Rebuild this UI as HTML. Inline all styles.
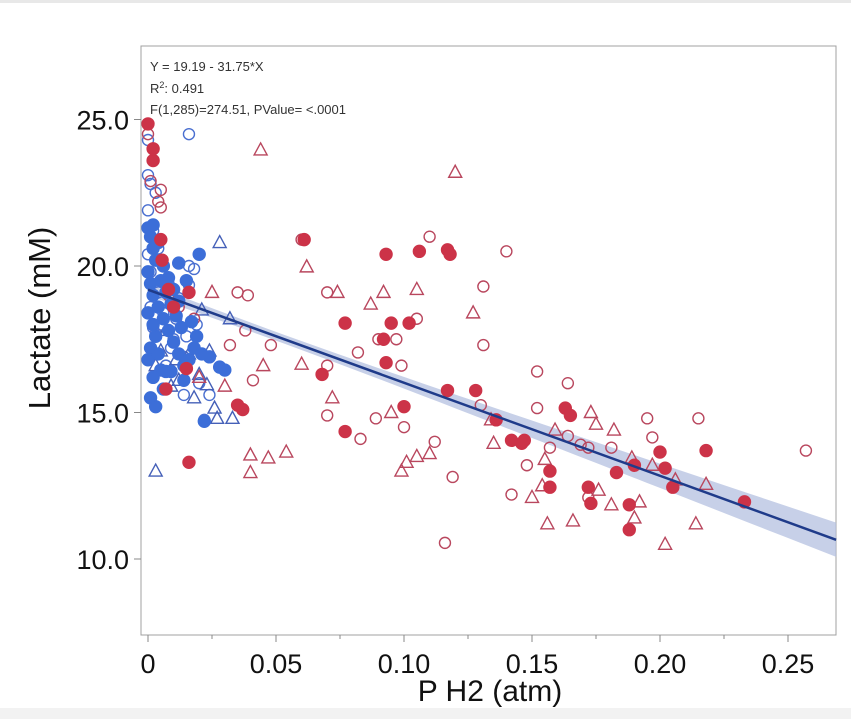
<!DOCTYPE html>
<html><head><meta charset="utf-8"><style>
html,body{margin:0;padding:0;background:#fff}
svg{display:block;font-family:"Liberation Sans",sans-serif}
</style></head><body>
<svg id="chart" width="851" height="719" xmlns="http://www.w3.org/2000/svg">
<rect x="0" y="0" width="851" height="719" fill="#fff"/>
<rect x="0" y="0" width="851" height="3" fill="#e8e8e8"/>
<rect x="0" y="708" width="851" height="11" fill="#f2f2f2"/>
<rect x="141" y="46" width="695" height="589" fill="#fff" stroke="#a0a0a0" stroke-width="1"/>
<g id="band"></g><g id="pts"></g><g id="axes"></g>
<text x="150" y="71" font-size="13" fill="#333">Y = 19.19 - 31.75*X</text>
<text x="150" y="93" font-size="13" fill="#333">R<tspan font-size="9" dy="-5">2</tspan><tspan dy="5">: 0.491</tspan></text>
<text x="150" y="114" font-size="13" fill="#333">F(1,285)=274.51, PValue= &lt;.0001</text>
<text transform="translate(50,318) rotate(-90)" text-anchor="middle" font-size="31" fill="#111">Lactate (mM)</text>
<text x="490" y="701" text-anchor="middle" font-size="30" fill="#111">P H2 (atm)</text>
</svg>
<script>
const xTicks=[0,0.05,0.10,0.15,0.20,0.25];
const xTickLabels=["0","0.05","0.10","0.15","0.20","0.25"];
const yTicks=[10,15,20,25];
const yTickLabels=["10.0","15.0","20.0","25.0"];
const intercept=19.19, slope=-31.75;
const redTriX=[0.044,0.12,0.062,0.025,0.074,0.092,0.105,0.087,0.127,0.045,0.06,0.072,0.095,0.135,0.04,0.047,0.054,0.04,0.101,0.105,0.11,0.099,0.134,0.155,0.159,0.173,0.175,0.182,0.189,0.197,0.156,0.166,0.15,0.154,0.176,0.181,0.192,0.19,0.202,0.206,0.214,0.218,0.02,0.03];
const redTriY=[23.96,23.2,19.97,19.1,19.1,19.1,19.2,18.7,18.4,16.6,16.65,15.5,15.0,13.95,13.55,13.45,13.65,12.95,13.3,13.5,13.6,13.0,14.75,13.4,14.4,15.0,14.6,14.4,13.45,13.2,11.2,11.3,12.1,12.5,12.35,11.85,11.95,11.4,10.5,12.7,11.2,12.55,16.2,15.9];
const redOpenX=[0,0.001,0.005,0.004,0.005,0.06,0.11,0.14,0.07,0.039,0.035,0.131,0.097,0.09,0.082,0.105,0.038,0.048,0.131,0.099,0.07,0.041,0.032,0.07,0.083,0.1,0.089,0.112,0.152,0.164,0.152,0.13,0.164,0.169,0.157,0.172,0.181,0.195,0.197,0.215,0.257,0.142,0.119,0.116,0.148,0.172,0.008,0.012,0.018];
const redOpenY=[24.5,22.9,22.6,22.2,22.0,20.9,21.0,20.5,19.1,19.0,19.1,19.3,17.5,17.5,17.05,18.2,17.8,17.3,17.3,16.6,16.6,16.1,17.3,14.9,14.1,14.5,14.8,14.0,16.4,16.0,15.15,15.25,14.2,13.9,13.8,13.8,13.8,14.8,14.15,14.8,13.7,12.2,12.8,10.55,13.2,12.1,19.0,18.6,18.2];
const redFillX=[0,0.002,0.002,0.005,0.061,0.093,0.117,0.118,0.106,0.077,0.095,0.102,0.092,0.068,0.093,0.077,0.1,0.117,0.128,0.136,0.142,0.147,0.146,0.157,0.163,0.165,0.172,0.173,0.157,0.183,0.188,0.188,0.19,0.2,0.202,0.205,0.218,0.233,0.0055,0.016,0.035,0.037,0.01,0.016,0.008,0.015,0.007];
const redFillY=[24.85,24.0,23.6,20.9,20.9,20.4,20.55,20.4,20.5,18.05,18.05,18.05,17.5,16.3,16.7,14.35,15.2,15.75,15.75,14.75,14.05,14.05,13.95,13.0,15.15,14.9,12.45,11.9,12.45,12.95,11.85,11.0,13.2,13.65,13.1,12.45,13.7,11.95,20.2,13.3,15.25,15.1,18.6,19.1,19.2,16.5,15.8];
const blueOpenX=[0,0.016,0,0.001,0.003,0,0.016,0.018,0.016,0.024,0.022,0.014,0.005,0.01,0.002,0.004,0.001,0.008,0.012,0.006,0.003,0.009,0.014,0.02,0.001,0.002,0.007,0.011,0.015,0.019,0.004,0.0];
const blueOpenY=[24.3,24.5,23.1,22.8,22.5,21.9,20.0,19.9,19.35,15.6,14.75,15.6,18.0,17.5,21.2,20.6,19.8,19.4,18.9,18.4,17.7,17.2,16.9,16.0,18.6,17.9,16.6,18.2,17.6,18.0,19.1,20.4];
const blueTriX=[0.028,0.003,0.033,0.027,0.026,0.023,0.02,0.012,0.016,0.011,0.032,0.024,0.005,0.007,0.018,0.009,0.003,0.021];
const blueTriY=[20.8,13.0,14.8,14.8,15.15,15.95,16.3,16.1,17.0,16.8,18.2,17.1,17.1,17.8,15.5,15.9,16.6,18.5];
const blueFillX=[0.028,0.03,0.022,0.014,0.005,0.007,0.009,0.02,0.012,0,0.001,0.002,0.003,0,0.001,0.002,0.004,0.006,0.008,0.01,0.012,0.014,0.016,0.018,0.005,0.007,0.009,0.011,0.013,0.003,0.001,0,0.002,0.004,0.006,0.008,0.01,0.012,0.002,0.004,0.006,0.001,0.003,0.017,0.019,0.015,0.021,0.024,0.0,0.002];
const blueFillY=[16.55,16.45,14.7,16.1,16.45,16.4,16.4,20.4,20.1,21.3,21.0,20.6,20.2,19.8,19.4,19.0,18.6,18.2,17.8,17.4,17.0,16.6,16.8,17.2,19.5,19.1,18.7,18.3,17.9,17.6,17.2,16.8,16.2,20.8,20.0,19.6,19.2,18.8,18.0,17.0,15.8,15.5,15.2,18.1,17.6,19.5,17.0,16.9,18.4,21.4];

const X=v=>148+v*2560, Y=v=>266-(v-20)*29.3;
const NS="http://www.w3.org/2000/svg";
const mk=(t,a,p)=>{const e=document.createElementNS(NS,t);for(const k in a)e.setAttribute(k,a[k]);p.appendChild(e);return e;};
const axes=document.getElementById('axes'),pts=document.getElementById('pts'),band=document.getElementById('band');
xTicks.forEach((v,i)=>{
 const t=mk('line',{x1:X(v),x2:X(v),y1:635,y2:642,stroke:'#888'},axes);
 
 
 const l=mk('text',{x:X(v),y:673,'text-anchor':'middle','font-size':27,fill:'#111'},axes);l.textContent=xTickLabels[i];
 
 
 if(i<xTicks.length-1){const m=mk('line',{x1:X(v+0.025),x2:X(v+0.025),y1:635,y2:639,stroke:'#888'},axes);
 
 }
});
yTicks.forEach((v,i)=>{
 const t=mk('line',{x1:134,x2:141,y1:Y(v),y2:Y(v),stroke:'#888'},axes);
 
 
 const l=mk('text',{x:129,y:Y(v)+10,'text-anchor':'end','font-size':27,fill:'#111'},axes);l.textContent=yTickLabels[i];
 
 
});
const xm=0.05,a=0.0225,b=6.66,x0=0,x1=0.2688;
let up=[],dn=[];
for(let i=0;i<=40;i++){const x=x0+(x1-x0)*i/40,yv=intercept+slope*x,h=Math.sqrt(a+b*(x-xm)*(x-xm));up.push(X(x)+','+Y(yv+h));dn.unshift(X(x)+','+Y(yv-h));}
const bp=mk('polygon',{points:up.concat(dn).join(' '),fill:'#b4c0e0','fill-opacity':0.75},band);


function circ(xs,ys,fill,stroke,name){xs.forEach((x,i)=>{const c=mk('circle',{cx:X(x),cy:Y(ys[i]),r:fill==='none'?5.5:6,fill:fill,stroke:stroke,'stroke-width':1.4},pts);
 
 });}
function tri(xs,ys,stroke,name){xs.forEach((x,i)=>{const cx=X(x),cy=Y(ys[i]);const p=mk('polygon',{points:`${cx},${cy-7} ${cx-6.5},${cy+5} ${cx+6.5},${cy+5}`,fill:'none',stroke:stroke,'stroke-width':1.4},pts);
 
 });}
circ(blueOpenX,blueOpenY,'none','#4a6fd0','blue-open-point');
tri(blueTriX,blueTriY,'#4560b8','blue-triangle-point');
circ(redOpenX,redOpenY,'none','#b9475e','red-open-point');
tri(redTriX,redTriY,'#b9475e','red-triangle-point');
circ(blueFillX,blueFillY,'#3c6ed8','#3c6ed8','blue-filled-point');
circ(redFillX,redFillY,'#cc3348','#cc3348','red-filled-point');
const fl=mk('line',{x1:X(x0),y1:Y(intercept+slope*x0),x2:X(x1),y2:Y(intercept+slope*x1),stroke:'#1f3b8a','stroke-width':2.5},pts);


</script>
</body></html>
